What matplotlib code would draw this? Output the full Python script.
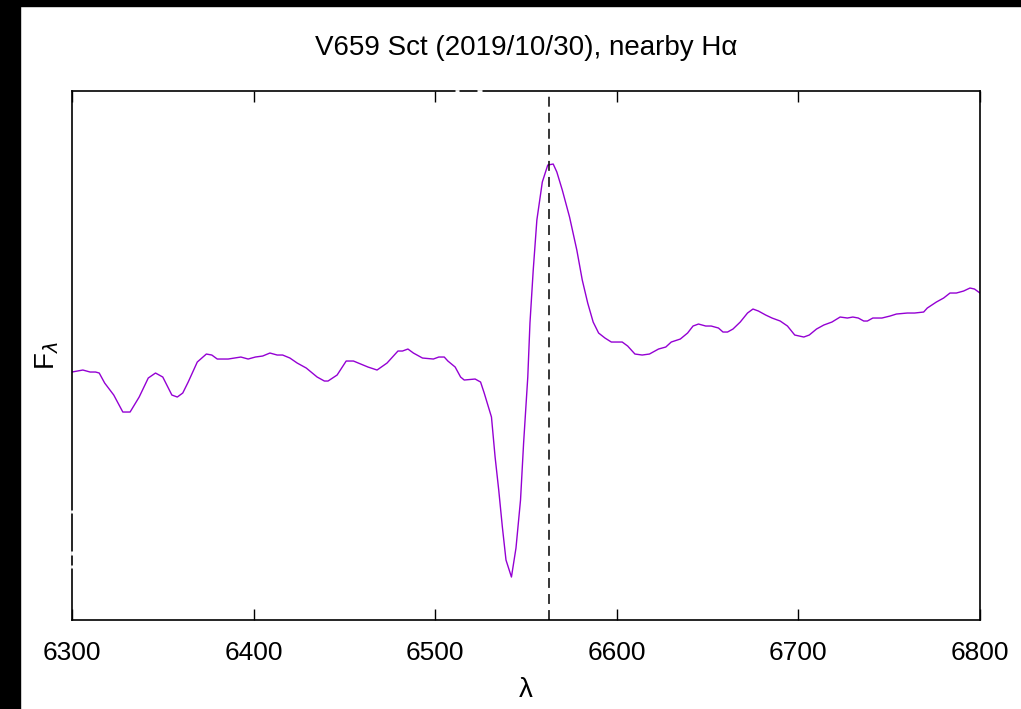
import matplotlib
matplotlib.use("Agg")
import matplotlib.pyplot as plt
from matplotlib.patches import Rectangle
from matplotlib.lines import Line2D

plt.rcParams['font.family'] = ['Liberation Sans', 'DejaVu Sans']

# spectrum (flux in arbitrary units)
wavelength = [6300, 6306, 6310, 6313, 6315, 6318, 6323, 6328, 6332, 6337,
              6342, 6346, 6350, 6355, 6358, 6361, 6364, 6369, 6374, 6377,
              6380, 6386, 6393, 6397, 6401, 6405, 6409, 6413, 6416, 6420,
              6424, 6429, 6435, 6439, 6441, 6446, 6451, 6455, 6459, 6463,
              6468, 6473.5, 6479.5, 6482, 6485, 6488, 6493, 6499, 6502, 6505,
              6507, 6511, 6514, 6516, 6522, 6525, 6527, 6531, 6533, 6535,
              6537, 6539, 6542, 6544.5, 6547, 6548.7, 6551, 6552.2, 6554, 6556,
              6559, 6562, 6565, 6567, 6570, 6574, 6578, 6581, 6584, 6587,
              6590, 6593.5, 6597, 6600, 6603, 6606, 6610, 6614, 6618, 6623,
              6627, 6630, 6635, 6639, 6642, 6645, 6649, 6652, 6656, 6658.5,
              6661, 6664, 6668, 6672, 6675, 6678, 6682, 6685.5, 6690, 6694,
              6698, 6703, 6706, 6710, 6714, 6718.5, 6723, 6727, 6730, 6733,
              6736, 6738, 6741, 6746, 6750.5, 6754, 6760, 6764, 6769, 6771,
              6776, 6780, 6783.5, 6787, 6791, 6794.5, 6797, 6800]
flux = [2.48, 2.50, 2.48, 2.48, 2.47, 2.37, 2.25, 2.08, 2.08, 2.23,
        2.42, 2.47, 2.43, 2.25, 2.23, 2.27, 2.38, 2.58, 2.66, 2.65,
        2.61, 2.61, 2.63, 2.61, 2.63, 2.64, 2.67, 2.65, 2.65, 2.62,
        2.57, 2.52, 2.43, 2.39, 2.39, 2.45, 2.59, 2.59, 2.56, 2.53,
        2.50, 2.57, 2.69, 2.69, 2.71, 2.67, 2.62, 2.61, 2.63, 2.63,
        2.59, 2.53, 2.43, 2.40, 2.41, 2.38, 2.27, 2.03, 1.63, 1.30,
        0.93, 0.60, 0.43, 0.72, 1.20, 1.77, 2.43, 2.97, 3.50, 4.00,
        4.38, 4.55, 4.56, 4.48, 4.30, 4.03, 3.70, 3.40, 3.17, 2.98,
        2.87, 2.82, 2.78, 2.78, 2.78, 2.74, 2.66, 2.65, 2.66, 2.71,
        2.73, 2.78, 2.81, 2.87, 2.94, 2.96, 2.94, 2.94, 2.92, 2.88,
        2.88, 2.91, 2.98, 3.07, 3.11, 3.09, 3.05, 3.02, 2.99, 2.94,
        2.85, 2.83, 2.85, 2.91, 2.95, 2.98, 3.03, 3.02, 3.03, 3.02,
        2.99, 2.99, 3.02, 3.02, 3.04, 3.06, 3.07, 3.07, 3.08, 3.12,
        3.18, 3.22, 3.27, 3.27, 3.29, 3.32, 3.31, 3.27]

h_alpha = 6562.8
xticks = [6300, 6400, 6500, 6600, 6700, 6800]

fig = plt.figure(figsize=(10.21, 7.09), dpi=100)
ax = fig.add_axes([0.0705, 0.1255, 0.8893, 0.7461])

ax.plot(wavelength, flux, color='#9400d3', lw=1.0)
ax.axvline(h_alpha, color='black', lw=1.1, dashes=(6.5, 4))

ax.set_xlim(6300, 6800)
ax.set_ylim(0, 5.29)
ax.set_xticks(xticks)
ax.set_yticks([])
ax.tick_params(axis='x', direction='in', length=8, width=1, top=True,
               labelsize=19, pad=15)
for s in ax.spines.values():
    s.set_linewidth(1.2)

ax.set_title('V659 Sct (2019/10/30), nearby H\u03b1', fontsize=20, pad=26)
ax.set_xlabel('\u03bb', fontsize=20, labelpad=9)
ax.set_ylabel('F$_\\lambda$', fontsize=20, labelpad=8)

# small gaps in the frame, as in the original output
for (x0, x1, y0, y1) in [(455, 459, 91, 91), (477, 482, 91, 91),
                         (72, 72, 510, 513), (72, 72, 551, 555),
                         (72, 72, 565, 568)]:
    fig.add_artist(Line2D([x0 / 1021, x1 / 1021],
                          [1 - y0 / 709, 1 - y1 / 709],
                          color='white', lw=2, solid_capstyle='butt'))

# dark border strips on the left and top edges
fig.add_artist(Rectangle((0, 0), 20 / 1021, 1, color='black',
                         transform=fig.transFigure))
fig.add_artist(Rectangle((0, 1 - 6 / 709), 1, 6 / 709, color='black',
                         transform=fig.transFigure))

fig.savefig('out.png', dpi=100)
